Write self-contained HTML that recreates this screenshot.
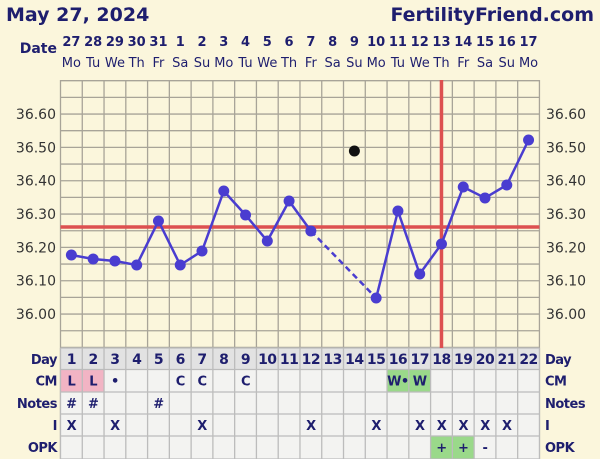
<!DOCTYPE html>
<html><head><meta charset="utf-8"><style>
html,body{margin:0;padding:0;background:#fbf6dc;}
svg{display:block;font-family:"DejaVu Sans","Liberation Sans",sans-serif;}
</style></head><body>
<svg id="s" width="600" height="459" viewBox="0 0 600 459" xmlns="http://www.w3.org/2000/svg">
<rect width="600" height="459" fill="#fbf6dc"/>
<text x="6" y="21" font-size="19" font-weight="bold" fill="#1e1e6e">May 27, 2024</text>
<text x="594" y="21" font-size="19" font-weight="bold" fill="#1e1e6e" text-anchor="end">FertilityFriend.com</text>
<text x="57" y="53" font-size="14" font-weight="bold" fill="#1e1e6e" text-anchor="end">Date</text>
<g id="g"></g>
</svg>
<script>
const g=document.getElementById('g');let h='';
const L=60.5,W=21.77,cx=i=>L+W*(i-0.5),y=v=>114-(v-36.6)*333.3;
const dates=[27,28,29,30,31,1,2,3,4,5,6,7,8,9,10,11,12,13,14,15,16,17];
const dows=['Mo','Tu','We','Th','Fr','Sa','Su'];
for(let i=1;i<=22;i++){h+=`<text x="${cx(i)}" y="46" font-size="13" font-weight="bold" fill="#1e1e6e" text-anchor="middle">${dates[i-1]}</text>`;
h+=`<text x="${cx(i)}" y="67" font-size="13" fill="#1e1e6e" text-anchor="middle">${dows[(i-1)%7]}</text>`;}
// grid
for(let k=0;k<=16;k++){const yy=80.7+k*16.67;h+=`<line x1="${L}" x2="${L+22*W}" y1="${yy}" y2="${yy}" stroke="#a8a498" stroke-width="1.3"/>`;}
for(let i=0;i<=22;i++){const xx=L+i*W;h+=`<line x1="${xx}" x2="${xx}" y1="80" y2="459" stroke="#a8a498" stroke-width="1.3"/>`;}
for(const v of [36.6,36.5,36.4,36.3,36.2,36.1,36.0]){h+=`<text x="56" y="${y(v)+5}" font-size="14" fill="#333" text-anchor="end">${v.toFixed(2)}</text><text x="546" y="${y(v)+5}" font-size="14" fill="#333">${v.toFixed(2)}</text>`;}
// table
const rows=[348,369.5,392,414,436,459];
const names=['Day','CM','Notes','I','OPK'];
for(let r=0;r<5;r++){h+=`<rect x="${L}" y="${rows[r]}" width="${22*W}" height="${rows[r+1]-rows[r]}" fill="${r==0?'#e2e2e2':'#f3f3f1'}"/>`;
h+=`<text x="57" y="${rows[r]+16}" font-size="13" font-weight="bold" fill="#1e1e6e" text-anchor="end" letter-spacing="-0.5">${names[r]}</text>`;
h+=`<text x="545" y="${rows[r]+16}" font-size="13" font-weight="bold" fill="#1e1e6e" letter-spacing="-0.5">${names[r]}</text>`;}
const fills={CM:{1:'#f2b4c4',2:'#f2b4c4',16:'#9ad98a',17:'#9ad98a'},OPK:{18:'#9ad98a',19:'#9ad98a'}};
for(const [k,o] of Object.entries(fills)){const r=names.indexOf(k);for(const i in o)h+=`<rect x="${L+(i-1)*W}" y="${rows[r]}" width="${W}" height="${rows[r+1]-rows[r]}" fill="${o[i]}"/>`;}
for(let k=0;k<6;k++)h+=`<line x1="${L}" x2="${L+22*W}" y1="${rows[k]}" y2="${rows[k]}" stroke="#bcbcbc" stroke-width="1.3"/>`;
for(let i=0;i<=22;i++){const xx=L+i*W;h+=`<line x1="${xx}" x2="${xx}" y1="348" y2="459" stroke="#bcbcbc" stroke-width="1.3"/>`;}
const cells={1:{},2:{1:'L',2:'L',3:'•',6:'C',7:'C',9:'C',16:'W•',17:'W'},3:{1:'#',2:'#',5:'#'},4:{1:'X',3:'X',7:'X',12:'X',15:'X',17:'X',18:'X',19:'X',20:'X',21:'X'},5:{18:'+',19:'+',20:'-'}};
for(let i=1;i<=22;i++)cells[1][i]=i;
for(let r=1;r<=5;r++)for(const i in cells[r])h+=`<text x="${cx(+i)}" y="${rows[r-1]+16}" font-size="${r==1?14:13}" font-weight="bold" fill="#1e1e6e" text-anchor="middle" letter-spacing="-0.5">${cells[r][i]}</text>`;
// red lines
h+=`<line x1="${L}" x2="${L+22*W}" y1="227" y2="227" stroke="#dd5050" stroke-width="3.5"/>`;
h+=`<line x1="${cx(18)}" x2="${cx(18)}" y1="80" y2="348" stroke="#dd5050" stroke-width="3.5"/>`;
// series
const pts=[[1,255],[2,259],[3,261],[4,265],[5,221],[6,265],[7,251],[8,191],[9,215],[10,241],[11,201],[12,231],[15,298],[16,211],[17,274],[18,244],[19,187],[20,198],[21,185],[22,140]];
const p=pts.map(a=>[cx(a[0]),a[1]]);
h+=`<polyline points="${p.slice(0,12).map(a=>a.join(',')).join(' ')}" fill="none" stroke="#4a3dd0" stroke-width="2.5"/>`;
h+=`<line x1="${p[11][0]}" y1="${p[11][1]}" x2="${p[12][0]}" y2="${p[12][1]}" stroke="#4a3dd0" stroke-width="2.5" stroke-dasharray="6,4"/>`;
h+=`<polyline points="${p.slice(12).map(a=>a.join(',')).join(' ')}" fill="none" stroke="#4a3dd0" stroke-width="2.5"/>`;
for(const a of p)h+=`<circle cx="${a[0]}" cy="${a[1]}" r="5.5" fill="#4a3dd0"/>`;
h+=`<circle cx="${cx(14)}" cy="151" r="5.5" fill="#111"/>`;
g.innerHTML=h;
</script>
</body></html>
